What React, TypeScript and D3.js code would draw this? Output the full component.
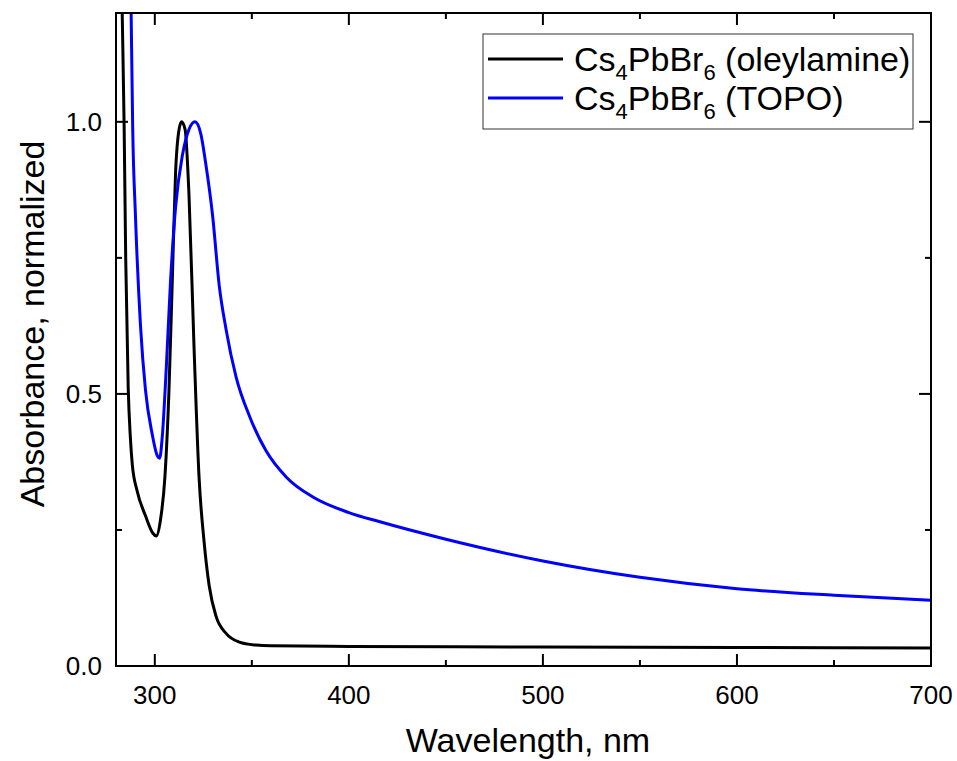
import React from "react";
import * as d3 from "d3";

// absorbance spectra (normalized)
const oleylamineNm = [
  280, 283.2, 284.2, 285.0, 286.3, 287.4, 288.4, 290.8, 295.2, 299.0, 300.8,
  302.9, 305.2, 307.3, 309.0, 310.7, 312.5, 313.8, 315.6, 317.6, 320.2, 322.8,
  325.4, 328.0, 331.5, 336.7, 343.6, 352.0, 360, 400, 500, 600, 700,
];
const oleylamineAbs = [
  1.9, 1.2, 0.99, 0.75, 0.51, 0.42, 0.37, 0.323, 0.276, 0.244, 0.239, 0.268,
  0.347, 0.507, 0.707, 0.907, 0.986, 1.0, 0.986, 0.867, 0.587, 0.347, 0.228,
  0.148, 0.092, 0.06, 0.044, 0.0385, 0.037, 0.036, 0.035, 0.034, 0.033,
];

const topoNm = [
  285, 287.8, 288.6, 290.0, 292.6, 295.2, 298.6, 301.2, 302.5, 303.8, 305.9,
  308.1, 310.7, 314.2, 317.6, 320.7, 323.7, 326.3, 329.8, 333.2, 336.7, 341.9,
  348.8, 357.4, 367.8, 381.7, 400, 416, 450, 500, 550, 600, 650, 700,
];
const topoAbs = [
  1.6, 1.2, 0.99, 0.83, 0.627, 0.507, 0.427, 0.387, 0.382, 0.419, 0.547, 0.707,
  0.843, 0.938, 0.986, 1.0, 0.978, 0.922, 0.827, 0.699, 0.619, 0.531, 0.459,
  0.395, 0.347, 0.31, 0.282, 0.265, 0.233, 0.193, 0.163, 0.142, 0.13, 0.121,
];

const xMajor = [300, 400, 500, 600, 700];
const xMinor = [350, 450, 550, 650];
const yMajor = [0, 0.5, 1.0];
const yMinor = [0.25, 0.75];

const series = [
  { sub1: "4", sub2: "6", tag: " (oleylamine)", color: "#000000", nm: oleylamineNm, abs: oleylamineAbs },
  { sub1: "4", sub2: "6", tag: " (TOPO)", color: "#0000ff", nm: topoNm, abs: topoAbs },
];

const W = 957;
const H = 761;
const plot = { left: 116, right: 931, top: 13, bottom: 666 };
const font = "Arial, 'Liberation Sans', sans-serif";

export default function App() {
  const x = d3.scaleLinear().domain([280, 700]).range([plot.left, plot.right]);
  const y = d3.scaleLinear().domain([0, 1.2]).range([plot.bottom, plot.top]);

  const line = d3
    .line<[number, number]>()
    .x((d) => x(d[0]))
    .y((d) => y(d[1]))
    .curve(d3.curveMonotoneX);

  const major = 12;
  const minor = 6;

  return (
    <svg
      width={W}
      height={H}
      style={{ position: "absolute", left: 0, top: 0, background: "#fff" }}
      fontFamily={font}
    >
      <defs>
        <clipPath id="plotClip">
          <rect
            x={plot.left}
            y={plot.top}
            width={plot.right - plot.left}
            height={plot.bottom - plot.top}
          />
        </clipPath>
      </defs>
      <rect width={W} height={H} fill="#fff" />

      <g clipPath="url(#plotClip)">
        {series.map((s, i) => (
          <path
            key={i}
            d={line(s.nm.map((n, j) => [n, s.abs[j]] as [number, number])) || ""}
            fill="none"
            stroke={s.color}
            strokeWidth={3}
            strokeLinejoin="round"
          />
        ))}
      </g>

      {/* ticks, all four sides pointing in */}
      <g stroke="#000" strokeWidth={2}>
        {xMajor.concat(xMinor).map((v) => {
          const len = xMajor.includes(v) ? major : minor;
          return (
            <g key={`xt${v}`}>
              <line x1={x(v)} x2={x(v)} y1={plot.bottom} y2={plot.bottom - len} />
              <line x1={x(v)} x2={x(v)} y1={plot.top} y2={plot.top + len} />
            </g>
          );
        })}
        {yMajor.concat(yMinor).map((v) => {
          const len = yMajor.includes(v) ? major : minor;
          return (
            <g key={`yt${v}`}>
              <line x1={plot.left} x2={plot.left + len} y1={y(v)} y2={y(v)} />
              <line x1={plot.right} x2={plot.right - len} y1={y(v)} y2={y(v)} />
            </g>
          );
        })}
      </g>

      <rect
        x={plot.left}
        y={plot.top}
        width={plot.right - plot.left}
        height={plot.bottom - plot.top}
        fill="none"
        stroke="#000"
        strokeWidth={2}
      />

      {xMajor.map((v) => (
        <text key={`xl${v}`} x={x(v)} y={704} textAnchor="middle" fontSize={26}>
          {v}
        </text>
      ))}
      {yMajor.map((v) => (
        <text
          key={`yl${v}`}
          x={102}
          y={y(v)}
          dy="0.35em"
          textAnchor="end"
          fontSize={26}
        >
          {d3.format(".1f")(v)}
        </text>
      ))}

      <text x={528} y={752} textAnchor="middle" fontSize={34}>
        Wavelength, nm
      </text>
      <text
        transform={`translate(44,324) rotate(-90)`}
        textAnchor="middle"
        fontSize={34}
      >
        Absorbance, normalized
      </text>

      {/* legend */}
      <rect x={483} y={34} width={430} height={95} fill="#fff" stroke="#333" strokeWidth={1} />
      {series.map((s, i) => {
        const cy = 59 + i * 39;
        return (
          <g key={`lg${i}`}>
            <line x1={488} x2={563} y1={cy} y2={cy} stroke={s.color} strokeWidth={3} />
            <text x={574} y={cy + 12} fontSize={34}>
              <tspan>Cs</tspan>
              <tspan dy={9} fontSize={22}>{s.sub1}</tspan>
              <tspan dy={-9}>PbBr</tspan>
              <tspan dy={9} fontSize={22}>{s.sub2}</tspan>
              <tspan dy={-9}>{s.tag}</tspan>
            </text>
          </g>
        );
      })}
    </svg>
  );
}
